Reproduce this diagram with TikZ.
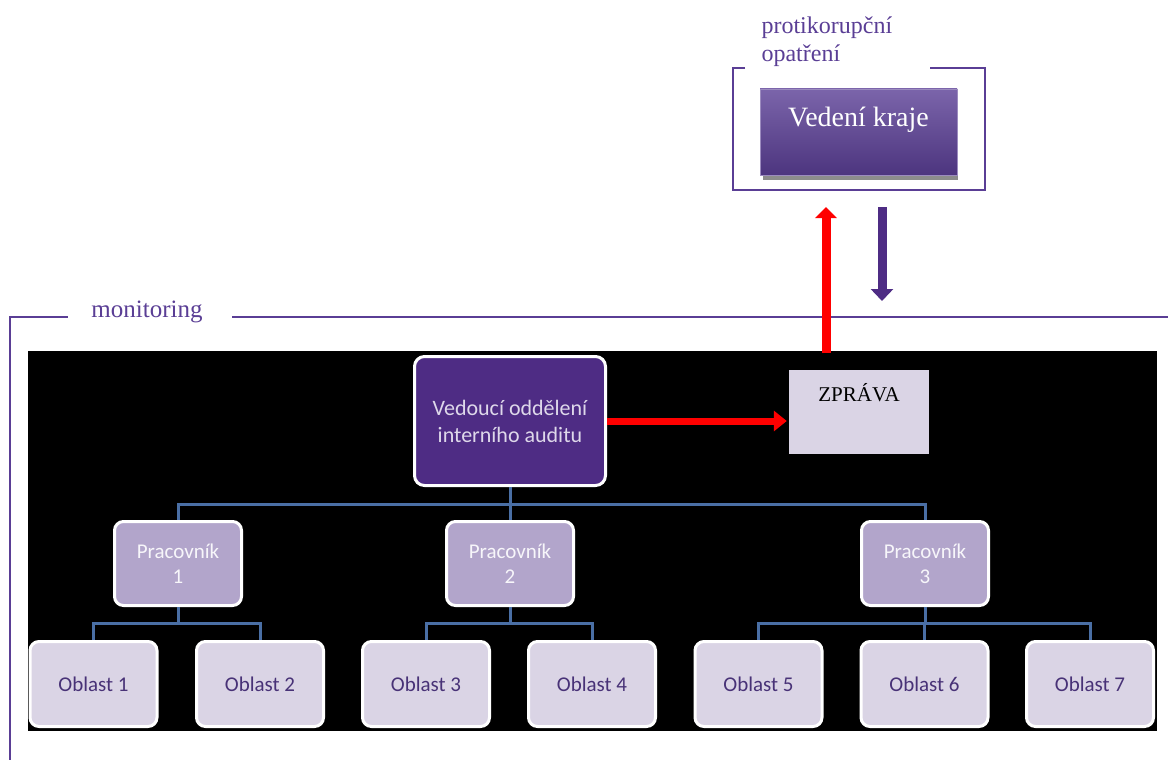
\documentclass[tikz,border=0pt]{standalone}
\usepackage{fontspec}
\setmainfont{Liberation Serif}
\newfontfamily\calibri{Carlito}
\usepackage{tikz}
\usetikzlibrary{arrows.meta,calc,positioning}
\definecolor{lila}{HTML}{5A3E95}
\definecolor{tmavalila}{HTML}{4E2C84}
\definecolor{svetlalila}{HTML}{DAD4E5}
\definecolor{stredlila}{HTML}{B2A5CB}
\definecolor{spoj}{HTML}{4A6FA5}
\definecolor{cervena}{HTML}{FF0000}

\begin{document}
\begin{tikzpicture}[x=1pt,y=-1pt,
  vedouci/.style={draw=white,line width=3pt,rounded corners=10pt,fill=tmavalila,
    minimum width=191pt,minimum height=129pt,align=center,
    font=\calibri\fontsize{22}{27}\selectfont,text=white!80!lila},
  pracovnik/.style={draw=white,line width=3pt,rounded corners=9pt,fill=stredlila,
    minimum width=127pt,minimum height=84pt,align=center,
    font=\calibri\fontsize{21}{25}\selectfont,text=white!90!stredlila},
  oblast/.style={draw=white,line width=3pt,rounded corners=9pt,fill=svetlalila,
    minimum width=127pt,minimum height=85pt,
    font=\calibri\fontsize{21}{24}\selectfont,text=lila!80!black},
  spojnice/.style={draw=spoj,line width=3pt},
  popisek/.style={text=lila,font=\fontsize{24}{28}\selectfont},
  ramecek/.style={draw=lila,line width=1.2pt}]
\useasboundingbox (0,0) rectangle (1168,760);

% cerne pozadi organigramu
\fill[black] (28,351) rectangle (1157,731);

% ramecek monitoring
\draw[ramecek] (10,760) -- (10,317) -- (1168,317);
\node[fill=white,minimum width=164pt,minimum height=30pt] (monitoring) at (150,317) {};
\node[popisek,font=\fontsize{25}{28}\selectfont] at (147,312) {monitoring};

% ramecek protikorupcni opatreni
\draw[ramecek] (745,68) -| (733,190) -| (985,68) -- (930,68);
\node[popisek,anchor=north west,align=left] (protikorupce) at (758,13) {protikorupční\\opatření};

% vedeni kraje se stinem
\fill[gray!90] (763,93) rectangle (958,180);
\shade[top color=lila!80!white,bottom color=lila!85!black,draw=lila!60] (760,89) rectangle (957,175);
\node[text=white,font=\fontsize{28}{32}\selectfont] (kraj) at (858.5,120) {Vedení kraje};

% vedouci a zprava
\node[vedouci] (vedouci) at (510,421) {Vedoucí oddělení\\interního auditu};
\node[fill=svetlalila,minimum width=140pt,minimum height=84pt] (zprava) at (859,412) {};
\node[font=\fontsize{21}{24}\selectfont] at (859,393) {ZPRÁVA};

% pracovnici
\foreach \x/\i in {178/1,510/2,925/3}{
  \node[pracovnik] (p\i) at (\x,563.5) {Pracovník\\\i};
}
% oblasti
\foreach \x/\i in {93.5/1,260/2,426/3,592/4,758.5/5,924.5/6,1090/7}{
  \node[oblast] (o\i) at (\x,684) {Oblast \i};
}

% spojnice
\foreach \i in {1,2,3}{
  \draw[spojnice] (vedouci.south) -- ++(0,17) -| (p\i.north);
}
\foreach \p/\o in {1/1,1/2,2/3,2/4,3/5,3/6,3/7}{
  \draw[spojnice] (p\p.south) -- ++(0,16) -| (o\o.north);
}

% sipky
\coordinate (nahoraA) at (826,353);
\coordinate (nahoraB) at (826,207);
\coordinate (doluA) at (882,207);
\coordinate (doluB) at (882,301);
\draw[cervena,line width=7pt,-{Triangle[width=20pt,length=13pt]},shorten >=2pt] (vedouci.east) -- (vedouci.east -| zprava.west);
\draw[cervena,line width=9pt,-{Triangle[width=21pt,length=11pt]}] (nahoraA) -- (nahoraB);
\draw[tmavalila,line width=9pt,-{Triangle[width=22pt,length=12pt]}] (doluA) -- (doluB);
\end{tikzpicture}
\end{document}
